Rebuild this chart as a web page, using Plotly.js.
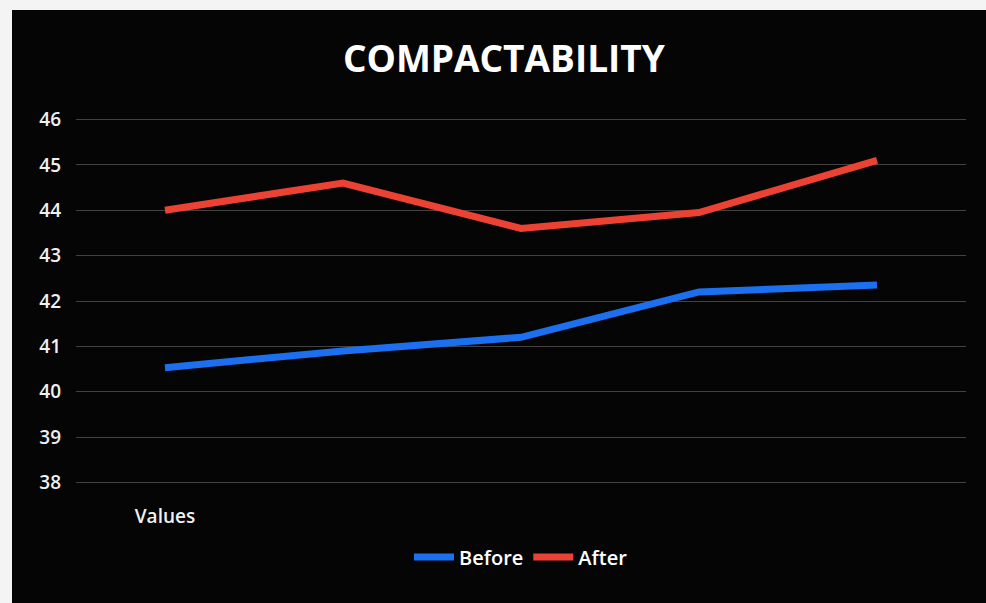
<!DOCTYPE html>
<html>
<head>
<meta charset="utf-8">
<script src="https://cdn.plot.ly/plotly-3.0.1.min.js"></script>
<style>
html,body{margin:0;padding:0;background:#f4f4f4;width:986px;height:603px;overflow:hidden;}
#chart{position:absolute;left:12px;top:10px;width:974px;height:593px;}
</style>
</head>
<body>
<div id="chart"></div>
<script>
const categories = [1, 2, 3, 4, 5];
const categoryLabels = ["Values", "", "", "", ""];
const beforeValues = [40.53, 40.9, 41.2, 42.2, 42.35];
const afterValues = [44.0, 44.6, 43.6, 43.95, 45.1];
const yTicks = [38, 39, 40, 41, 42, 43, 44, 45, 46];

const font = "'Open Sans', 'Liberation Sans', sans-serif";

const traces = [
  {x: categories, y: beforeValues, name: "Before", type: "scatter", mode: "lines",
   line: {color: "rgb(28,112,240)", width: 7}},
  {x: categories, y: afterValues, name: "After", type: "scatter", mode: "lines",
   line: {color: "rgb(236,66,52)", width: 7}}
];

const layout = {
  width: 974, height: 593,
  paper_bgcolor: "#050505", plot_bgcolor: "#050505",
  margin: {l: 64, r: 20, t: 105, b: 116},
  title: {text: "<b>COMPACTABILITY</b>", x: 0.505, xanchor: "center", y: 0.918, yanchor: "middle",
          font: {family: font, size: 37, color: "#ffffff"}},
  xaxis: {range: [0.5, 5.5], tickvals: categories, ticktext: categoryLabels,
          showgrid: false, zeroline: false, showline: false,
          ticks: "outside", ticklen: 12, tickcolor: "rgba(0,0,0,0)",
          tickfont: {family: font, size: 19, color: "#f0f0f0", weight: 600}},
  yaxis: {range: [37.9, 46.1], tickvals: yTicks, showgrid: true,
          gridcolor: "rgba(190,190,190,0.33)", gridwidth: 1, zeroline: false, showline: false,
          ticklabelstandoff: 14,
          tickfont: {family: font, size: 19, color: "#f0f0f0", weight: 600}},
  showlegend: true,
  legend: {orientation: "h", x: 0.50, xanchor: "center", y: -0.188, yanchor: "middle",
           font: {family: font, size: 20, color: "#ffffff", weight: 600}, bgcolor: "rgba(0,0,0,0)",
           itemwidth: 40, tracegroupgap: 0}
};

Plotly.newPlot("chart", traces, layout, {displayModeBar: false, staticPlot: true});
</script>
</body>
</html>
